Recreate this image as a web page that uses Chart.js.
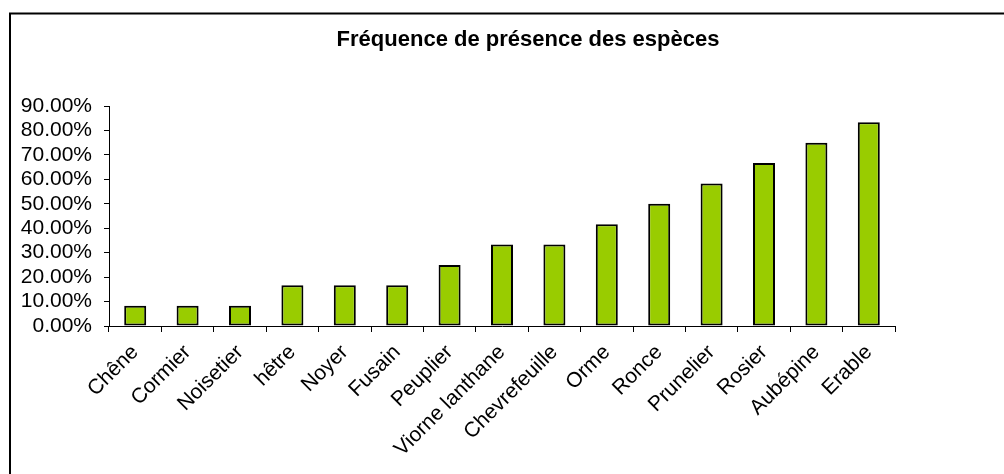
<!DOCTYPE html>
<html>
<head>
<meta charset="utf-8">
<script src="https://cdn.jsdelivr.net/npm/chart.js@4/dist/chart.umd.min.js"></script>
<style>
  html, body { margin: 0; padding: 0; background: #fff; }
  #wrap { width: 1004px; height: 474px; }
</style>
</head>
<body>
<div id="wrap"><canvas id="bar-chart" width="1004" height="474"></canvas></div>
<script>
var especes = ["Chêne", "Cormier", "Noisetier", "hêtre", "Noyer", "Fusain", "Peuplier",
  "Viorne lanthane", "Chevrefeuille", "Orme", "Ronce", "Prunelier", "Rosier", "Aubépine", "Erable"];
var frequence = [8.33, 8.33, 8.33, 16.67, 16.67, 16.67, 25.00,
  33.33, 33.33, 41.67, 50.00, 58.33, 66.67, 75.00, 83.33];
var titre = "Fréquence de présence des espèces";

Chart.defaults.font.family = "'Liberation Sans', Arial, sans-serif";
Chart.defaults.color = "#000";

// cadre + titre
var cadre = {
  id: "cadre",
  afterDraw: function(chart) {
    var ctx = chart.ctx;
    ctx.save();
    ctx.strokeStyle = "#000";
    ctx.lineWidth = 2;
    ctx.beginPath();
    ctx.moveTo(10, 474);
    ctx.lineTo(10, 13.5);
    ctx.lineTo(1004, 13.5);
    ctx.stroke();
    ctx.font = "bold 22px 'Liberation Sans', Arial, sans-serif";
    ctx.fillStyle = "#000";
    ctx.textAlign = "center";
    ctx.textBaseline = "middle";
    ctx.fillText(titre, 528, 40);
    ctx.restore();
  }
};

new Chart(document.getElementById("bar-chart"), {
  type: "bar",
  data: {
    labels: especes,
    datasets: [{
      data: frequence,
      backgroundColor: "#99CC00",
      borderColor: "#000",
      borderWidth: 2,
      borderSkipped: false,
      categoryPercentage: 1,
      barPercentage: 0.42
    }]
  },
  options: {
    responsive: false,
    animation: false,
    layout: { padding: { left: 0, right: 109, top: 106, bottom: 0 } },
    plugins: {
      legend: { display: false },
      title: { display: false },
      tooltip: { enabled: false }
    },
    scales: {
      x: {
        grid: { offset: true, drawOnChartArea: false, drawTicks: true, tickLength: 6, color: "#000", lineWidth: 1 },
        border: { display: true, color: "#000", width: 1 },
        ticks: { minRotation: 45, maxRotation: 45, autoSkip: false, padding: 8, font: { size: 21 } },
        afterFit: function(scale) { scale.height = 148; }
      },
      y: {
        min: 0,
        max: 90,
        grid: { drawOnChartArea: false, drawTicks: true, tickLength: 5, color: "#000", lineWidth: 1 },
        border: { display: true, color: "#000", width: 1 },
        ticks: {
          stepSize: 10,
          autoSkip: false,
          padding: 12,
          font: { size: 21 },
          callback: function(v) { return v.toFixed(2) + "%"; }
        },
        afterFit: function(scale) { scale.width = 109; }
      }
    }
  },
  plugins: [cadre]
});
</script>
</body>
</html>
